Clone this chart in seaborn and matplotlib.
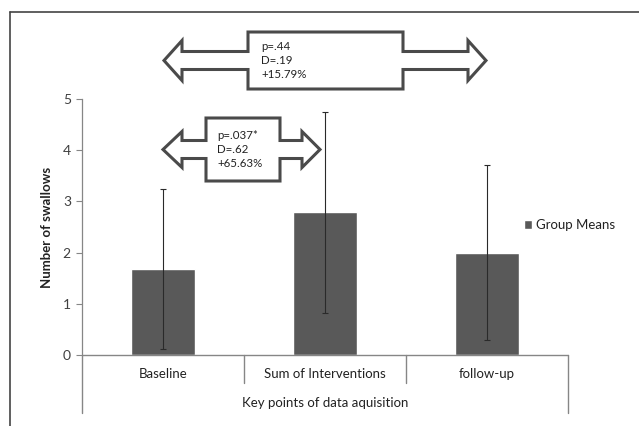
import matplotlib
matplotlib.use("Agg")
import matplotlib.pyplot as plt
import seaborn as sns
import pandas as pd
from matplotlib.patches import Polygon
from matplotlib.lines import Line2D

categories = ["Baseline", "Sum of Interventions", "follow-up"]
means = [1.68, 2.79, 2.00]
sds = [1.56, 1.96, 1.71]
series_name = "Group Means"
y_ticks = [0, 1, 2, 3, 4, 5]
big_arrow_text = ["p=.44", "D=.19", "+15.79%"]
small_arrow_text = ["p=.037*", "D=.62", "+65.63%"]

sns.set_theme(style="white")
plt.rcParams["font.family"] = ["Lato", "DejaVu Sans"]

W, H = 639, 426
fig = plt.figure(figsize=(W / 100, H / 100), dpi=100)

def fx(x):
    return x / W

def fy(y):
    return 1 - y / H

ax_left, ax_right, ax_top, ax_bottom = 82, 568, 99, 355
ax = fig.add_axes([fx(ax_left), fy(ax_bottom), fx(ax_right - ax_left), (ax_bottom - ax_top) / H])

df = pd.DataFrame({"cat": categories, "mean": means, "sd": sds})
sns.barplot(data=df, x="cat", y="mean", color="#595959", width=0.395,
            errorbar=None, ax=ax, saturation=1, label=series_name)
if ax.get_legend() is not None:
    ax.get_legend().remove()
ax.errorbar(range(len(categories)), means, yerr=sds, fmt="none",
            ecolor="#2a2a2a", elinewidth=0.8, capsize=2.3, capthick=0.8)

ax.set_xlim(-0.5, 2.5)
ax.set_ylim(0, 5)
ax.set_yticks(y_ticks)
ax.set_yticklabels([str(t) for t in y_ticks], fontsize=10, color="#404040")
ax.tick_params(axis="y", length=4, width=0.8, color="#868686", pad=4, left=True)
ax.set_xticks([])
ax.set_xlabel("")
ax.set_ylabel("Number of swallows", fontsize=9.5, fontweight="bold", color="#222222", labelpad=7)
for s in ["top", "right", "bottom"]:
    ax.spines[s].set_visible(False)
ax.spines["left"].set_color("#868686")
ax.spines["left"].set_linewidth(0.9)

# category axis lines (figure pixel coordinates)
grey = "#868686"
fig.add_artist(Line2D([fx(ax_left), fx(ax_right)], [fy(355), fy(355)], color=grey, lw=1))
step = (ax_right - ax_left) / len(categories)
seps = [ax_left + step * i for i in range(len(categories) + 1)]
for i, xs in enumerate(seps):
    yb = 413 if i in (0, len(seps) - 1) else 383
    fig.add_artist(Line2D([fx(xs), fx(xs)], [fy(355), fy(yb)], color=grey, lw=1))
for i, c in enumerate(categories):
    xc = (seps[i] + seps[i + 1]) / 2
    fig.text(fx(xc), fy(374), c, ha="center", va="center", fontsize=9.5, color="#222222")
fig.text(fx((ax_left + ax_right) / 2), fy(403), "Key points of data aquisition",
         ha="center", va="center", fontsize=9.5, color="#222222")

# outer frame
frame_c = "#444444"
fig.add_artist(Line2D([fx(10), fx(639)], [fy(12), fy(12)], color=frame_c, lw=1.2))
fig.add_artist(Line2D([fx(10), fx(10)], [fy(12), fy(426)], color=frame_c, lw=1.2))

# legend
handles, labels = ax.get_legend_handles_labels()
fig.legend(handles[:1], [series_name], loc="center left", bbox_to_anchor=(fx(524), fy(225)),
           frameon=False, handlelength=0.6, handleheight=0.6, handletextpad=0.3,
           borderpad=0, borderaxespad=0, fontsize=9.5, labelcolor="#222222")

def double_arrow(xl, xhl, bx0, bx1, xhr, xr, yc, box_half, shaft_half, head_half, lines, tx):
    pts = [
        (xl, yc),
        (xhl, yc - head_half), (xhl, yc - shaft_half), (bx0, yc - shaft_half),
        (bx0, yc - box_half), (bx1, yc - box_half), (bx1, yc - shaft_half),
        (xhr, yc - shaft_half), (xhr, yc - head_half), (xr, yc),
        (xhr, yc + head_half), (xhr, yc + shaft_half), (bx1, yc + shaft_half),
        (bx1, yc + box_half), (bx0, yc + box_half), (bx0, yc + shaft_half),
        (xhl, yc + shaft_half), (xhl, yc + head_half),
    ]
    pts = [(fx(x), fy(y)) for x, y in pts]
    fig.add_artist(Polygon(pts, closed=True, facecolor="white", edgecolor="#4a4a4a",
                           lw=2.2, joinstyle="miter"))
    for k, t in enumerate(lines):
        fig.text(fx(tx), fy(yc - 14 + 14 * k), t, ha="left", va="center",
                 fontsize=8.3, color="#222222")

double_arrow(164, 182, 248, 403, 468, 486, 60.5, 28.5, 9, 20, big_arrow_text, 261)
double_arrow(163, 182, 206, 280, 302, 320, 149.5, 31.5, 9, 18, small_arrow_text, 217)

fig.savefig("out.png", dpi=100)
